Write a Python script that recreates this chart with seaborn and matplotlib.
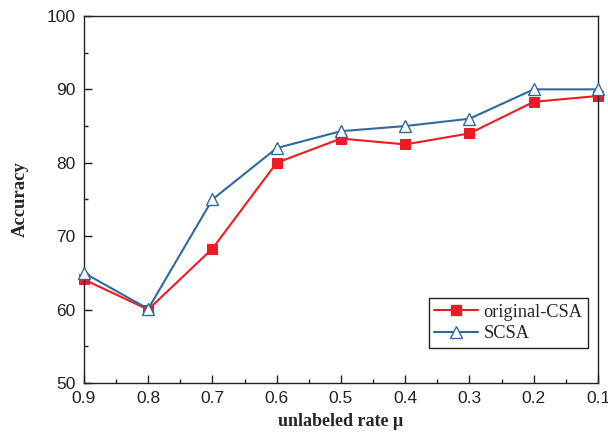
import matplotlib
matplotlib.use("Agg")
import matplotlib.pyplot as plt
import numpy as np
import pandas as pd
import seaborn as sns
from matplotlib.ticker import MultipleLocator

rates = [0.9, 0.8, 0.7, 0.6, 0.5, 0.4, 0.3, 0.2, 0.1]
csa = [64.1, 60.0, 68.3, 80.0, 83.3, 82.5, 84.0, 88.3, 89.1]
scsa = [65.0, 60.1, 75.0, 82.0, 84.3, 85.0, 86.0, 90.0, 90.0]

df = pd.DataFrame({
    "rate": rates * 2,
    "acc": csa + scsa,
    "method": ["original-CSA"] * len(rates) + ["SCSA"] * len(rates),
})

sns.set_style("ticks")
plt.rcParams['font.family'] = ['Liberation Sans', 'DejaVu Sans']

fig = plt.figure(figsize=(6.08, 4.38), dpi=100)
ax = fig.add_axes([0.138, 0.1256, 0.8456, 0.838])

red = "#ED1C24"
blue = "#2E6AA0"
sns.lineplot(data=df, x="rate", y="acc", hue="method", style="method",
             palette={"original-CSA": red, "SCSA": blue},
             markers={"original-CSA": "s", "SCSA": "^"}, dashes=False,
             linewidth=1.5, markersize=7, ax=ax, legend=False)

lines = ax.get_lines()
lines[0].set_markerfacecolor(red)
lines[0].set_markeredgecolor(red)
lines[1].set_markerfacecolor("white")
lines[1].set_markeredgecolor(blue)
lines[1].set_markeredgewidth(1.0)
lines[1].set_markersize(8)
lines[1].set_zorder(3)
for ln in lines:
    ln.set_clip_on(False)

ax.set_xlim(0.9, 0.1)
ax.set_ylim(50, 100)
ax.xaxis.set_minor_locator(MultipleLocator(0.05))
ax.yaxis.set_major_locator(MultipleLocator(10))
ax.yaxis.set_minor_locator(MultipleLocator(5))
ax.set_xticks(rates)
ax.set_xticklabels([f"{r:.1f}" for r in rates])
ax.tick_params(which="both", direction="in", top=False, right=False,
               labelsize=12.5, colors="#222222", width=1.0, pad=6)
ax.tick_params(which="major", length=6)
ax.tick_params(which="minor", length=3)
for s in ax.spines.values():
    s.set_linewidth(1.0)
    s.set_color("#222222")

ax.set_xlabel("unlabeled rate μ", fontsize=13, fontweight="bold",
              family="Liberation Serif", labelpad=5)
ax.set_ylabel("Accuracy", fontsize=13.5, fontweight="bold",
              family="Liberation Serif", labelpad=13)

h0 = plt.Line2D([], [], color=red, marker="s", markersize=7, linewidth=1.5)
h1 = plt.Line2D([], [], color=blue, marker="^", markersize=8, linewidth=1.5,
                markerfacecolor="white", markeredgecolor=blue)
leg = ax.legend([h0, h1], ["original-CSA", "SCSA"], loc="lower right",
                bbox_to_anchor=(0.9805, 0.0954), borderaxespad=0,
                fancybox=False, framealpha=1,
                edgecolor="#222222", prop={"family": "Liberation Serif", "size": 13.2},
                handlelength=2.4, borderpad=0.3, labelspacing=0.25, handletextpad=0.3)
leg.get_frame().set_linewidth(1.0)

fig.savefig("out.png", dpi=100)
